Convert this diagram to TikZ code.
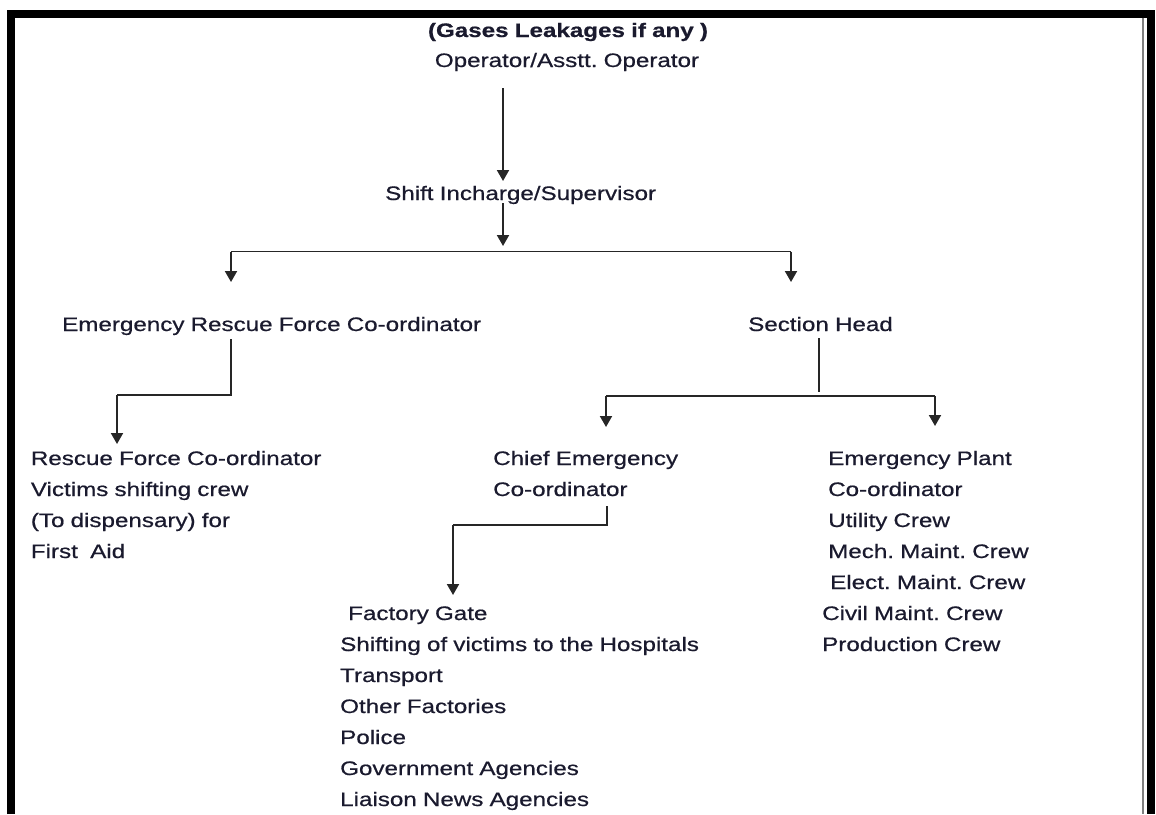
\documentclass[tikz,border=0pt]{standalone}
\usepackage{fontspec}
\setmainfont{Liberation Sans}[FakeStretch=1.24,FakeBold=0.6,WordSpace=0.92]
\usetikzlibrary{arrows.meta}
\definecolor{txt}{HTML}{1A1A2E}
\definecolor{linec}{HTML}{262626}
\frenchspacing
\begin{document}
\begin{tikzpicture}[x=1pt,y=-1pt,
  lbl/.style={inner sep=0pt, anchor=base west, font=\fontsize{19.5}{23}\selectfont\frenchspacing, text=txt},
  conn/.style={line width=1.9pt, draw=linec},
  arr/.style={conn, -{Triangle[width=12pt,length=11pt]}},
  frame/.style={line width=7.8pt, draw=black, line join=miter}]
\useasboundingbox (0,0) rectangle (1156,814);
\fill[white] (0,0) rectangle (1156,814);
% frame
\draw[frame] (11,814) -- (11,13.7) -- (1151,13.7) -- (1151,814);
\draw[line width=2pt, draw=gray] (1143.2,17.5) -- (1143.2,814);

% top chain
\node[lbl, anchor=base, font=\fontsize{19.5}{23}\selectfont\bfseries] (title) at (568,37) {(Gases Leakages if any )};
\node[lbl, anchor=base] (op) at (567,67) {Operator/Asstt. Operator};
\node[lbl] (shift) at (385,200) {Shift Incharge/Supervisor};
\node[lbl] (erfc) at (62,331) {Emergency Rescue Force Co-ordinator};
\node[lbl] (sh) at (748,331) {Section Head};

% rescue list
\node[lbl] (rf1) at (30.7,465) {Rescue Force Co-ordinator};
\node[lbl] (rf2) at (30.7,496) {Victims shifting crew};
\node[lbl] (rf3) at (30.7,527) {(To dispensary) for};
\node[lbl] (rf4) at (30.7,558) {First\ \ Aid};

% chief
\node[lbl] (ce1) at (493,465) {Chief Emergency};
\node[lbl] (ce2) at (493,496) {Co-ordinator};

% emergency plant
\node[lbl] (ep1) at (828,465) {Emergency Plant};
\node[lbl] (ep2) at (828,496) {Co-ordinator};
\node[lbl] (ep3) at (828,527) {Utility Crew};
\node[lbl] (ep4) at (828,558) {Mech. Maint. Crew};
\node[lbl] (ep5) at (830,589) {Elect. Maint. Crew};
\node[lbl] (ep6) at (822,620) {Civil Maint. Crew};
\node[lbl] (ep7) at (822,651) {Production Crew};

% factory gate
\node[lbl] (fg1) at (348,620) {Factory Gate};
\node[lbl] (fg2) at (340,651) {Shifting of victims to the Hospitals};
\node[lbl] (fg3) at (340,682) {Transport};
\node[lbl] (fg4) at (340,713) {Other Factories};
\node[lbl] (fg5) at (340,744) {Police};
\node[lbl] (fg6) at (340,775) {Government Agencies};
\node[lbl] (fg7) at (340,806) {Liaison News Agencies};

% connector points
\coordinate (opB) at (503,88);
\coordinate (shT) at (503,181);
\coordinate (shB) at (503,203);
\coordinate (shE) at (503,246);
\coordinate (hL) at (231,251.5);
\coordinate (hR) at (791,251.5);
\coordinate (erfcT) at (231,282);
\coordinate (shdT) at (791,282);
\coordinate (erfcB) at (231,339);
\coordinate (erfcJ) at (231,395);
\coordinate (rfJ) at (117,395);
\coordinate (rfT) at (117,444);
\coordinate (shdB) at (819,338);
\coordinate (shdJ) at (819,392);
\coordinate (sL) at (606,396);
\coordinate (sR) at (935,396);
\coordinate (ceT) at (606,427);
\coordinate (epT) at (935,426);
\coordinate (ceB) at (607,506);
\coordinate (ceJ) at (607,525);
\coordinate (fgJ) at (453,525);
\coordinate (fgT) at (453,595);

\draw[arr] (opB) -- (shT);
\draw[arr] (shB) -- (shE);
\draw[conn] (hL) -- (hR);
\draw[arr] (hL) -- (erfcT);
\draw[arr] (hR) -- (shdT);
\draw[conn] (erfcB) -- (erfcJ) -- (rfJ);
\draw[arr] (rfJ) -- (rfT);
\draw[conn] (shdB) -- (shdJ);
\draw[conn] (sL) -- (sR);
\draw[arr] (sL) -- (ceT);
\draw[arr] (sR) -- (epT);
\draw[conn] (ceB) -- (ceJ) -- (fgJ);
\draw[arr] (fgJ) -- (fgT);
\end{tikzpicture}
\end{document}
